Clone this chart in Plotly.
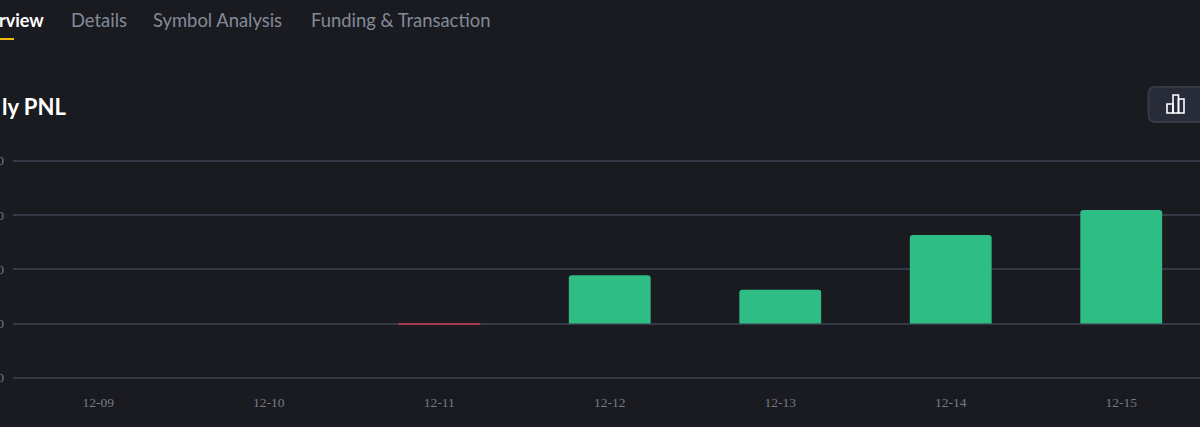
import plotly.graph_objects as go

dates = ["12-09", "12-10", "12-11", "12-12", "12-13", "12-14", "12-15"]
pnl = [0, 0, -2, 89, 62, 163, 209]
y_ticks = [-100, 0, 100, 200, 300]
tabs = ["Details", "Symbol Analysis", "Funding & Transaction"]
GREEN, RED = "#2ebd85", "#a83a52"
BG, GRID = "#1a1b20", "#353945"

W, H = 1200, 427
L, T, B = 13, 150, 390
ZERO_PX, PX_PER_UNIT = 323.5, 0.5425
px = lambda v: (v - L) / (W - L)
py = lambda v: (B - v) / (B - T)
FONT = "Lato, Inter, sans-serif"

fig = go.Figure(go.Bar(
    x=dates, y=pnl, width=0.48,
    marker=dict(color=[GREEN if v >= 0 else RED for v in pnl], line_width=0, cornerradius=3),
    hoverinfo="x+y",
))

annotations = [
    dict(text="<b>rview</b>", x=px(44), y=py(20), xanchor="right", yanchor="middle",
         font=dict(size=18, color="#ffffff", family=FONT)),
    dict(text="<b>ly PNL</b>", x=px(66), y=py(106), xanchor="right", yanchor="middle",
         font=dict(size=22, color="#ffffff", family=FONT)),
]
for label, left in zip(tabs, [71, 153, 311]):
    annotations.append(dict(text=label, x=px(left), y=py(20), xanchor="left", yanchor="middle",
                            font=dict(size=18.4, color="#848a98", family=FONT)))
for a in annotations:
    a.update(xref="paper", yref="paper", showarrow=False, borderpad=0, borderwidth=0)

def rect(x0, y0, x1, y1, **kw):
    return dict(type="rect", xref="paper", yref="paper", x0=px(x0), x1=px(x1), y0=py(y0), y1=py(y1), **kw)

def rounded(x0, y0, x1, y1, r, **kw):
    path = (f"M {px(x0+r)} {py(y0)} L {px(x1)} {py(y0)} L {px(x1)} {py(y1)} L {px(x0+r)} {py(y1)} "
            f"Q {px(x0)} {py(y1)} {px(x0)} {py(y1-r)} L {px(x0)} {py(y0+r)} "
            f"Q {px(x0)} {py(y0)} {px(x0+r)} {py(y0)} Z")
    return dict(type="path", xref="paper", yref="paper", path=path, **kw)

icon = dict(line=dict(color="#ffffff", width=1.6), fillcolor="rgba(0,0,0,0)")
shapes = [
    rect(0, 38, 14, 40, fillcolor="#f0b90b", line_width=0),
    rounded(1148.5, 87, 1202, 122, 7, fillcolor="#272c38", line=dict(color="#363a45", width=2)),
    rect(1167, 104, 1173, 113, **icon),
    rect(1173, 95, 1178.5, 113, **icon),
    rect(1178.5, 99, 1184, 113, **icon),
]

fig.update_layout(
    width=W, height=H, autosize=False,
    margin=dict(l=L, r=0, t=T, b=H - B, pad=0),
    paper_bgcolor=BG, plot_bgcolor=BG, showlegend=False,
    annotations=annotations, shapes=shapes,
    font=dict(family="Liberation Serif, serif", size=13.5, color="#777a85"),
    xaxis=dict(type="category", categoryorder="array", categoryarray=dates, automargin=False,
               range=[-0.5, 6.462], showgrid=False, zeroline=False, showline=False,
               ticks="", ticklabelstandoff=2, tickfont=dict(size=13.5, color="#777a85")),
    yaxis=dict(range=[(ZERO_PX - B) / PX_PER_UNIT, (ZERO_PX - T) / PX_PER_UNIT], automargin=False,
               tickvals=y_ticks, ticktext=[str(v) for v in y_ticks],
               showgrid=True, gridcolor=GRID, gridwidth=1.5,
               zeroline=True, zerolinecolor=GRID, zerolinewidth=1.5,
               showline=False, ticks="", ticklabelstandoff=8,
               tickfont=dict(size=13.5, color="#777a85")),
)

fig.write_html("out.html", config={"displayModeBar": False},
               post_script="document.body.style.margin='0';document.body.style.background='#1a1b20';")
